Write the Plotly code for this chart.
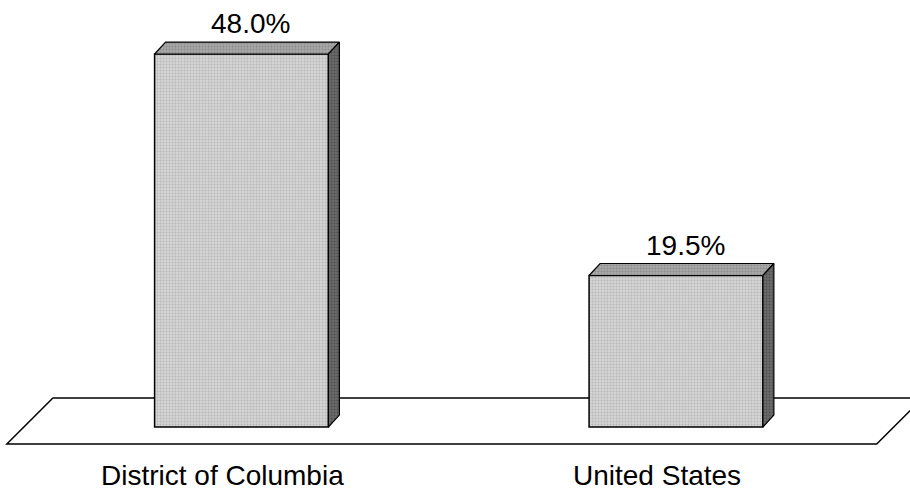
import plotly.graph_objects as go

# ---- data ----
categories = ["District of Columbia", "United States"]
values = [48.0, 19.5]
value_labels = ["48.0%", "19.5%"]

# ---- layout constants (pixel-derived) ----
W, H = 910, 493
x_pos = [0, 1]
bar_w = 0.40
dx = 0.0253        # depth offset in x units
dy = 1.54          # depth offset in y units
x_range = [-0.5558, 1.5386]
y_range = [-8.49, 54.95]

floor_back = 3.73
floor_front = -2.19
floor_left = -0.487
floor_right = 1.515
skew = 0.053

FONT = "Liberation Sans, Arial, Helvetica, sans-serif"
fig = go.Figure()

# floor parallelogram (below all traces)
fl = [floor_left - skew, floor_left + skew, floor_right + skew, floor_right - skew]
fb = [floor_front, floor_back, floor_back, floor_front]
path = "M " + " L ".join(f"{a},{b}" for a, b in zip(fl, fb)) + " Z"
fig.add_shape(type="path", path=path, xref="x", yref="y", layer="below",
              fillcolor="white", line=dict(color="black", width=1.5))

# front faces
fig.add_trace(go.Bar(
    x=x_pos, y=values, width=bar_w,
    marker=dict(color="#cdcdcd", line=dict(color="black", width=1.5),
                pattern=dict(shape=".", fgcolor="#9a9a9a", bgcolor="#d4d4d4", size=3, solidity=0.35)),
    hoverinfo="skip", showlegend=False,
))

for xc, v in zip(x_pos, values):
    l, r = xc - bar_w / 2, xc + bar_w / 2
    # top face
    fig.add_trace(go.Scatter(
        x=[l, l + dx, r + dx, r, l], y=[v, v + dy, v + dy, v, v],
        mode="lines", fill="toself", fillcolor="#a2a2a2",
        fillpattern=dict(shape=".", fgcolor="#6e6e6e", bgcolor="#a8a8a8", size=3, solidity=0.35),
        line=dict(color="black", width=1.2), hoverinfo="skip", showlegend=False,
    ))
    # side face
    fig.add_trace(go.Scatter(
        x=[r, r + dx, r + dx, r, r], y=[0, dy, v + dy, v, 0],
        mode="lines", fill="toself", fillcolor="#5e5e5e",
        fillpattern=dict(shape=".", fgcolor="#333333", bgcolor="#6a6a6a", size=3, solidity=0.35),
        line=dict(color="black", width=1.2), hoverinfo="skip", showlegend=False,
    ))

annotations = []
for xc, v, t in zip(x_pos, values, value_labels):
    annotations.append(dict(x=xc + dx / 2, y=v + dy, text=t, showarrow=False,
                            xanchor="center", yanchor="bottom", yshift=1, xshift=4,
                            font=dict(family=FONT, size=28, color="black")))
for xc, c in zip(x_pos, categories):
    annotations.append(dict(x=xc, xref="x", y=0, yref="paper", text=c, showarrow=False,
                            xanchor="center", yanchor="bottom", xshift=-19,
                            font=dict(family=FONT, size=28, color="black")))

fig.update_layout(
    width=W, height=H, margin=dict(l=0, r=0, t=0, b=0),
    paper_bgcolor="white", plot_bgcolor="white",
    xaxis=dict(range=x_range, visible=False, fixedrange=True),
    yaxis=dict(range=y_range, visible=False, fixedrange=True),
    annotations=annotations, barmode="overlay",
)
fig.write_html("out.html")
